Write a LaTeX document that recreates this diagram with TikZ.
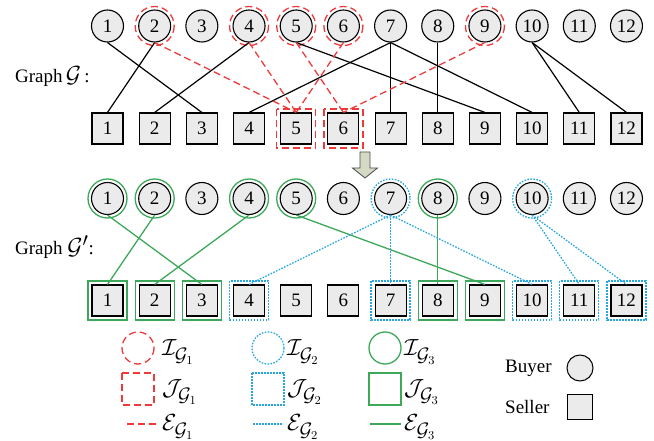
\documentclass[tikz,border=0pt]{standalone}
\usepackage{fontspec}
\setmainfont{Liberation Serif}
\usetikzlibrary{calc}
\definecolor{nodefill}{HTML}{EBEBEB}
\definecolor{rd}{HTML}{EE3A3A}
\definecolor{bl}{HTML}{2AA6E0}
\definecolor{gr}{HTML}{3DA75A}
\definecolor{arrfill}{HTML}{D5DAC5}
\newcommand{\bigmath}[1]{\scalebox{1.35}{$#1$}}
\begin{document}
\begin{tikzpicture}[x=1pt,y=-1pt,
  buyer/.style={circle,draw,line width=1.1pt,fill=nodefill,minimum size=32pt,inner sep=0pt,font=\fontsize{19}{20}\selectfont},
  seller/.style={rectangle,draw,line width=1.1pt,fill=nodefill,minimum size=31pt,inner sep=0pt,font=\fontsize{19}{20}\selectfont},
  redd/.style={draw=rd,line width=1.3pt,dash pattern=on 7pt off 4pt},
  blud/.style={draw=bl,line width=1.3pt,dash pattern=on 1.6pt off 1.4pt},
  grn/.style={draw=gr,line width=1.3pt},
  edge/.style={draw=black,line width=1.2pt},
  lbl/.style={anchor=west,inner sep=0pt,font=\fontsize{19}{22}\selectfont},
]
\useasboundingbox (0,0) rectangle (654,441);
% nodes
\foreach \i in {1,...,12}{
  \pgfmathsetmacro{\xx}{107.5+47.18*(\i-1)}
  \node[buyer] (tb\i) at (\xx,26) {\i};
  \node[seller] (ts\i) at (\xx,128.5) {\i};
  \node[buyer] (bb\i) at (\xx,198.5) {\i};
  \node[seller] (bs\i) at (\xx,300.5) {\i};
}
% labels
\node[lbl] (lg1) at (15,77) {Graph\,\bigmath{\mathcal{G}}\,:};
\node[lbl] (lg2) at (15,247) {Graph \bigmath{\mathcal{G}'}:};
% top highlights
\foreach \i in {2,4,5,6,9}{ \draw[redd] (tb\i) circle (19.5); }
\foreach \i in {5,6}{ \draw[redd] ($(ts\i)+(-19.5,-19.5)$) rectangle ($(ts\i)+(19.5,19.5)$); }
% top edges
\foreach \a/\b in {1/3,2/1,4/2,5/9,7/4,7/7,7/10,8/8,10/11,10/12}{
  \draw[edge] (tb\a.south) -- (ts\b.north);
}
\foreach \a/\b in {2/5,4/5,6/5,5/6,9/6}{
  \draw[redd] (tb\a.south) -- (ts\b.north);
}
% arrow
\draw[draw=black!70,fill=arrfill,line width=0.8pt]
  (360,152) -- (370,152) -- (370,168) -- (377.5,168) -- (365,178) -- (352.5,168) -- (360,168) -- cycle;
% bottom highlights
\foreach \i in {1,2,4,5,8}{ \draw[grn] (bb\i) circle (19.5); }
\foreach \i in {7,10}{ \draw[blud] (bb\i) circle (19.5); }
\foreach \i in {1,2,3,8,9}{ \draw[grn] ($(bs\i)+(-19.5,-19.5)$) rectangle ($(bs\i)+(19.5,19.5)$); }
\foreach \i in {4,7,10,11,12}{ \draw[blud] ($(bs\i)+(-19.5,-19.5)$) rectangle ($(bs\i)+(19.5,19.5)$); }
% bottom edges
\foreach \a/\b in {1/3,2/1,4/2,5/9,8/8}{
  \draw[grn] (bb\a.south) -- (bs\b.north);
}
\foreach \a/\b in {7/4,7/7,7/10,10/11,10/12}{
  \draw[blud] (bb\a.south) -- (bs\b.north);
}
% legend
\coordinate (lc1) at (138,348);
\coordinate (lc2) at (268,348);
\coordinate (lc3) at (385,348);
\draw[redd] (lc1) circle (16);
\draw[blud] (lc2) circle (16);
\draw[grn] (lc3) circle (16);
\draw[redd] (122,373) rectangle (154,405);
\draw[blud] (252,373) rectangle (284,405);
\draw[grn] (369,373) rectangle (401,405);
\coordinate (r1a) at (127,424); \coordinate (r1b) at (159,424);
\coordinate (r2a) at (253,424); \coordinate (r2b) at (283,424);
\coordinate (r3a) at (370,424); \coordinate (r3b) at (401,424);
\draw[redd] (r1a) -- (r1b);
\draw[blud] (r2a) -- (r2b);
\draw[grn] (r3a) -- (r3b);
\node[lbl] (li1) at (162,352) {\bigmath{\mathcal{I}_{\mathcal{G}_1}}};
\node[lbl] (lj1) at (162,392) {\bigmath{\mathcal{J}_{\mathcal{G}_1}}};
\node[lbl] (le1) at (162,427) {\bigmath{\mathcal{E}_{\mathcal{G}_1}}};
\node[lbl] (li2) at (287,352) {\bigmath{\mathcal{I}_{\mathcal{G}_2}}};
\node[lbl] (lj2) at (287,392) {\bigmath{\mathcal{J}_{\mathcal{G}_2}}};
\node[lbl] (le2) at (287,427) {\bigmath{\mathcal{E}_{\mathcal{G}_2}}};
\node[lbl] (li3) at (404,352) {\bigmath{\mathcal{I}_{\mathcal{G}_3}}};
\node[lbl] (lj3) at (404,392) {\bigmath{\mathcal{J}_{\mathcal{G}_3}}};
\node[lbl] (le3) at (404,427) {\bigmath{\mathcal{E}_{\mathcal{G}_3}}};
\node[lbl] (lbuy) at (505,368) {Buyer};
\node[lbl] (lsel) at (505,407) {Seller};
\node[buyer,minimum size=26pt,line width=1pt] (kb) at (580,368) {};
\node[seller,minimum size=25pt,line width=1pt] (ks) at (580,407) {};
\end{tikzpicture}
\end{document}
